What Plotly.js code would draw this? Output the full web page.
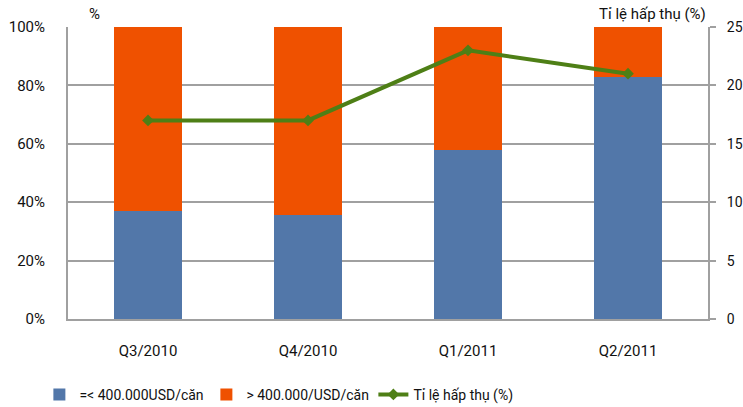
<!DOCTYPE html>
<html>
<head>
<meta charset="utf-8">
<script src="https://cdn.plot.ly/plotly-3.0.1.min.js"></script>
<style>html,body{margin:0;padding:0;background:#fff;}#chart{width:743px;height:407px;}</style>
</head>
<body>
<div id="chart"></div>
<script>
const categories = ["Q3/2010", "Q4/2010", "Q1/2011", "Q2/2011"];
const below400 = [37, 35.5, 58, 83];
const above400 = [63, 64.5, 42, 17];
const absorption = [17, 17, 23, 21];
const leftTicks = [0, 20, 40, 60, 80, 100];
const leftTickText = ["0%", "20%", "40%", "60%", "80%", "100%"];
const rightTicks = [0, 5, 10, 15, 20, 25];

const FONT = "Roboto, Open Sans, sans-serif";
const AX = "#a0a0a0";
const TXT = "#111";

const data = [
  {type: "bar", name: "=< 400.000USD/căn", x: categories, y: below400,
   marker: {color: "#5277a9"}, yaxis: "y"},
  {type: "bar", name: "> 400.000/USD/căn", x: categories, y: above400,
   marker: {color: "#ef5100"}, yaxis: "y"},
  {type: "scatter", mode: "lines+markers", name: "Tỉ lệ hấp thụ (%)", x: categories, y: absorption,
   yaxis: "y2", line: {color: "#4e7f16", width: 4},
   marker: {symbol: "diamond", size: 9, color: "#4e7f16"}}
];

const layout = {
  width: 743, height: 407,
  margin: {l: 68, r: 35, t: 27, b: 88},
  barmode: "stack",
  bargap: 0.575,
  paper_bgcolor: "#fff", plot_bgcolor: "#fff",
  font: {family: FONT, size: 15, color: TXT},
  showlegend: true,
  legend: {orientation: "h", xref: "container", yref: "container", x: 0.053, xanchor: "left",
           y: 0.03, yanchor: "middle", entrywidth: 122, entrywidthmode: "pixels",
           font: {family: FONT, size: 14, color: TXT}, traceorder: "normal", itemwidth: 30},
  xaxis: {showline: true, linecolor: AX, linewidth: 2, mirror: false, ticks: "",
          showgrid: false, tickfont: {family: FONT, size: 15, color: TXT}, ticklabelstandoff: 17},
  yaxis: {range: [0, 100], tickvals: leftTicks, ticktext: leftTickText, showline: true, linecolor: AX,
          linewidth: 2, showgrid: true, gridcolor: AX, gridwidth: 2, ticks: "", zeroline: false,
          ticklabelstandoff: 18, tickfont: {family: FONT, size: 15, color: TXT}},
  yaxis2: {range: [0, 25], tickvals: rightTicks, overlaying: "y", side: "right", showline: true,
           linecolor: AX, linewidth: 2, showgrid: false, ticks: "outside", ticklen: 6, tickcolor: AX,
           tickwidth: 2, zeroline: false, ticklabelstandoff: 8, tickfont: {family: FONT, size: 14, color: TXT}},
  annotations: [
    {text: "%", xref: "paper", yref: "paper", x: 0.03, y: 1, yshift: 2, xanchor: "left", yanchor: "bottom",
     showarrow: false, font: {family: FONT, size: 15, color: TXT}},
    {text: "Tỉ lệ hấp thụ (%)", xref: "paper", yref: "paper", x: 1, y: 1, yshift: 2, xanchor: "right", yanchor: "bottom",
     showarrow: false, font: {family: FONT, size: 15, color: TXT}}
  ]
};

Plotly.newPlot("chart", data, layout, {displayModeBar: false, staticPlot: true});
</script>
</body>
</html>
